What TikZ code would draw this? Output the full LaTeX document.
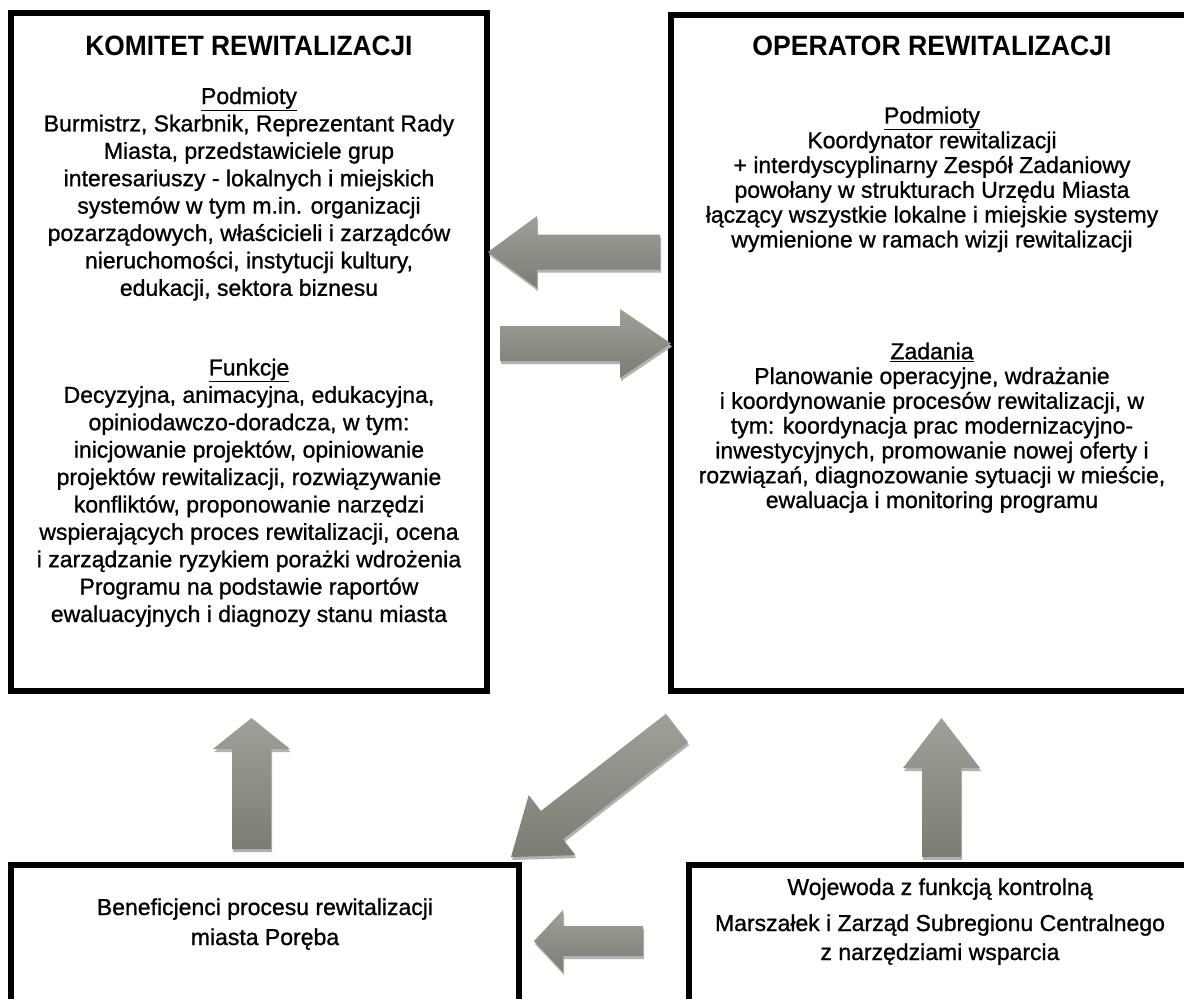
\documentclass[tikz,border=0pt]{standalone}
\usepackage{fontspec}
\usepackage{graphicx}
\newfontfamily\bodyfont{Liberation Sans}[FakeBold=1.0]
\newfontfamily\titlefont{Liberation Sans}
\definecolor{arrlight}{RGB}{160,160,153}
\definecolor{arrdark}{RGB}{124,124,117}
\definecolor{arrshade}{RGB}{178,178,175}
\tikzset{
  framebox/.style={draw=black, line width=6pt, inner sep=0pt, outer sep=0pt},
  bodytext/.style={font=\bodyfont\fontsize{23}{27.4}\selectfont, align=center, inner sep=0pt, anchor=base},
  titletext/.style={font=\titlefont\bfseries\fontsize{28}{32}\selectfont, inner sep=0pt, anchor=base},
  blockarrow/.style={top color=arrlight, bottom color=arrdark, draw=none},
  arrowshadow/.style={fill=arrshade, draw=none, shift={(1,3)}}
}
\begin{document}
\begin{tikzpicture}[x=1pt, y=-1pt]
\useasboundingbox (0,0) rectangle (1184,999);
\clip (0,0) rectangle (1184,999);
\fill[white] (0,0) rectangle (1184,999);

% boxes
\node[framebox, minimum width=476pt, minimum height=678pt] (komitet) at (249,352) {};
\node[framebox, minimum width=529pt, minimum height=676pt] (operator) at (935.5,353) {};
\node[framebox, minimum width=508pt, minimum height=145pt] (benef) at (265,937.5) {};
\node[framebox, minimum width=511pt, minimum height=145pt] (wojewoda) at (944.5,937.5) {};

% titles
\node[titletext] (kt) at (249,55) {\scalebox{0.94}[1]{KOMITET REWITALIZACJI}};
\node[titletext] (ot) at (932,55) {\scalebox{0.95}[1]{OPERATOR REWITALIZACJI}};

% left body (anchor = baseline of last line)
\node[bodytext] (kb) at (249,622) {\underline{Podmioty}\\
Burmistrz, Skarbnik, Reprezentant Rady\\
Miasta, przedstawiciele grup\\
interesariuszy - lokalnych i miejskich\\
systemów w tym m.in. organizacji\\
pozarządowych, właścicieli i zarządców\\
nieruchomości, instytucji kultury,\\
edukacji, sektora biznesu\\[52.2pt]
\underline{Funkcje}\\
Decyzyjna, animacyjna, edukacyjna,\\
opiniodawczo-doradcza, w tym:\\
inicjowanie projektów, opiniowanie\\
projektów rewitalizacji, rozwiązywanie\\
konfliktów, proponowanie narzędzi\\
wspierających proces rewitalizacji, ocena\\
i zarządzanie ryzykiem porażki wdrożenia\\
Programu na podstawie raportów\\
ewaluacyjnych i diagnozy stanu miasta};

% right body
\node[bodytext, font=\bodyfont\fontsize{23}{24.8}\selectfont] (ob) at (932,508) {\underline{Podmioty}\\
Koordynator rewitalizacji\\
+ interdyscyplinarny Zespół Zadaniowy\\
powołany w strukturach Urzędu Miasta\\
łączący wszystkie lokalne i miejskie systemy\\
wymienione w ramach wizji rewitalizacji\\[87pt]
\underline{Zadania}\\
Planowanie operacyjne, wdrażanie\\
i koordynowanie procesów rewitalizacji, w\\
tym: koordynacja prac modernizacyjno-\\
inwestycyjnych, promowanie nowej oferty i\\
rozwiązań, diagnozowanie sytuacji w mieście,\\
ewaluacja i monitoring programu};

% bottom texts
\node[bodytext, font=\bodyfont\fontsize{23}{30}\selectfont] (bb) at (265,945) {Beneficjenci procesu rewitalizacji\\ miasta Poręba};
\node[bodytext] (wb1) at (940,895) {Wojewoda z funkcją kontrolną};
\node[bodytext, font=\bodyfont\fontsize{23}{29}\selectfont] (wb2) at (940,960) {Marszałek i Zarząd Subregionu Centralnego\\ z narzędziami wsparcia};

% arrows: operator -> komitet (left)
\fill[arrowshadow] (660,234.5) -- (537,234.5) -- (537,216) -- (488,252) -- (537,288) -- (537,269.5) -- (660,269.5) -- cycle;
\path[blockarrow] (660,234.5) -- (537,234.5) -- (537,216) -- (488,252) -- (537,288) -- (537,269.5) -- (660,269.5) -- cycle;
% komitet -> operator (right)
\fill[arrowshadow] (500,326) -- (620,326) -- (620,309) -- (671,343.5) -- (620,378) -- (620,361) -- (500,361) -- cycle;
\path[blockarrow] (500,326) -- (620,326) -- (620,309) -- (671,343.5) -- (620,378) -- (620,361) -- (500,361) -- cycle;
% benef -> komitet (up)
\fill[arrowshadow] (232,849) -- (232,749) -- (213,749) -- (251.5,718) -- (290,749) -- (271,749) -- (271,849) -- cycle;
\path[blockarrow] (232,849) -- (232,749) -- (213,749) -- (251.5,718) -- (290,749) -- (271,749) -- (271,849) -- cycle;
% wojewoda -> operator (up)
\fill[arrowshadow] (922,857) -- (922,768) -- (903,768) -- (941.5,718) -- (980,768) -- (961,768) -- (961,857) -- cycle;
\path[blockarrow] (922,857) -- (922,768) -- (903,768) -- (941.5,718) -- (980,768) -- (961,768) -- (961,857) -- cycle;
% operator -> benef (diagonal)
\fill[arrowshadow] (666.0,713.8) -- (541.0,810.9) -- (528.7,795.1) -- (511,857) -- (575.4,855.1) -- (563.1,839.3) -- (688.0,742.2) -- cycle;
\path[blockarrow] (666.0,713.8) -- (541.0,810.9) -- (528.7,795.1) -- (511,857) -- (575.4,855.1) -- (563.1,839.3) -- (688.0,742.2) -- cycle;
% wojewoda -> benef (left)
\fill[arrowshadow] (643,926) -- (563,926) -- (563,910) -- (534,941) -- (563,972) -- (563,956) -- (643,956) -- cycle;
\path[blockarrow] (643,926) -- (563,926) -- (563,910) -- (534,941) -- (563,972) -- (563,956) -- (643,956) -- cycle;
\end{tikzpicture}
\end{document}
